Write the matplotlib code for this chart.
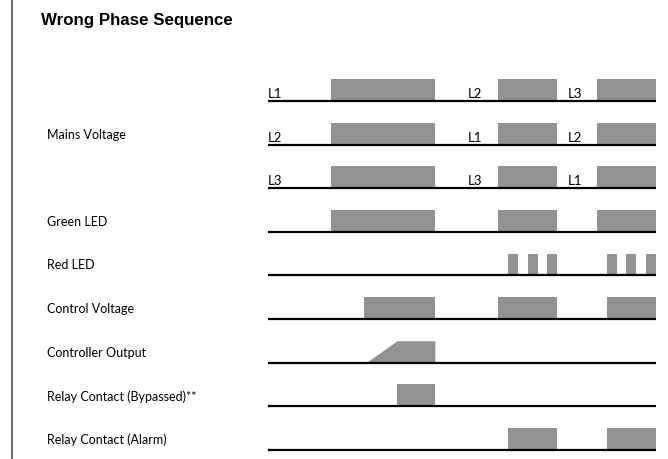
import matplotlib.pyplot as plt
from matplotlib.lines import Line2D

# time axis: 0..100 across the baseline, rows stacked downwards
signal_names = ["", "Mains Voltage", "", "Green LED", "Red LED", "Control Voltage",
                "Controller Output", "Relay Contact (Bypassed)**", "Relay Contact (Alarm)"]

mains_on = [(16.2, 43.0), (59.3, 74.5), (84.8, 100.0)]
phase_labels = [["L1", "L2", "L3"],
                ["L2", "L1", "L2"],
                ["L3", "L3", "L1"]]
phase_label_t = [0.0, 51.5, 77.3]

green_on = [(16.2, 43.0), (59.3, 74.5), (84.8, 100.0)]
red_on = [(61.9, 64.4), (67.0, 69.6), (71.9, 74.5),
          (87.4, 89.9), (92.3, 94.8), (97.4, 100.0)]
control_on = [(24.7, 43.0), (59.3, 74.5), (87.4, 100.0)]
ctrl_out_t = [25.3, 33.2, 43.0]
ctrl_out_level = [0.0, 1.0, 1.0]
bypass_on = [(33.2, 43.0)]
alarm_on = [(61.9, 74.5), (87.4, 100.0)]

t_start, t_end = 0.0, 100.0
bar_h = 0.5
grey = "#929292"
font = "Lato"

fig = plt.figure(figsize=(6.68, 4.60), dpi=100)
ax = fig.add_axes([0, 0, 1, 1])
ax.set_xlim(-69.07, 103.09)
ax.set_ylim(-8.211, 2.339)
ax.axis("off")


def draw_row(row, spans):
    y0 = -row
    for a, b in spans:
        ax.fill_between([a, b], y0, y0 + bar_h, color=grey, linewidth=0)
    ax.plot([t_start, t_end], [y0, y0], color="black", lw=1.6, solid_capstyle="butt")


for i in range(3):
    draw_row(i, mains_on)
    for t, lab in zip(phase_label_t, phase_labels[i]):
        ax.text(t, -i + 0.04, lab, fontsize=9.5, family=font, ha="left", va="bottom")

draw_row(3, green_on)
draw_row(4, red_on)
draw_row(5, control_on)

# controller output ramps up, then holds
ax.fill_between(ctrl_out_t, -6, [-6 + v * bar_h for v in ctrl_out_level],
                color=grey, linewidth=0)
draw_row(6, [])
draw_row(7, bypass_on)
draw_row(8, alarm_on)

for i, name in enumerate(signal_names):
    if name:
        ax.text(-57.0, -i + 0.25, name, fontsize=9, family=font, ha="left", va="center")

fig.text(41 / 668, 1 - 20 / 460, "Wrong Phase Sequence", fontsize=12.2, fontweight="bold",
         family="Liberation Sans", ha="left", va="center")
fig.add_artist(Line2D([11.5 / 668, 11.5 / 668], [0, 1], color="#555555", lw=1.2))

fig.savefig("out.png", dpi=100)
